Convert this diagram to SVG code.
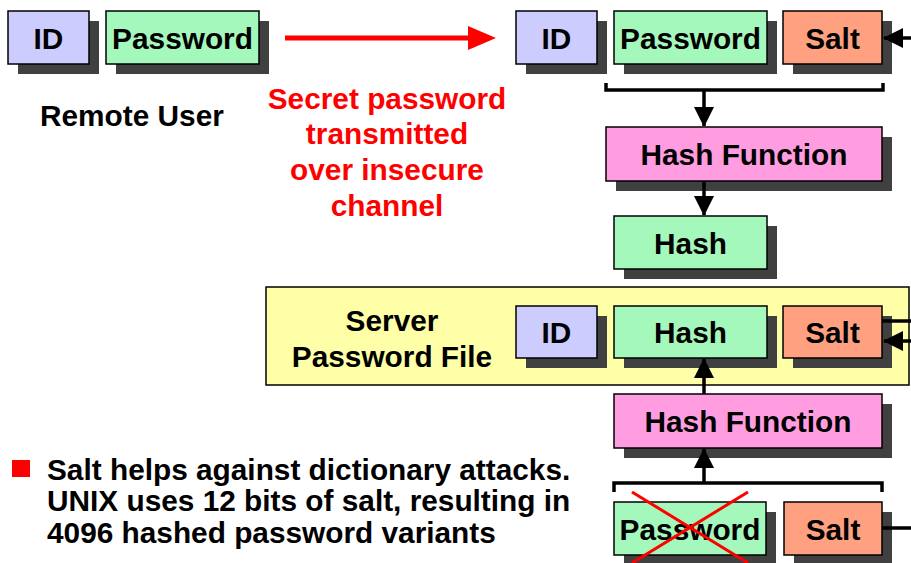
<svg xmlns="http://www.w3.org/2000/svg" width="911" height="563" viewBox="0 0 911 563">
<style>
text{font-family:"Liberation Sans",Arial,sans-serif;font-weight:bold;font-size:29.8px;fill:#000}
.c{text-anchor:middle}
.red{fill:#ff0000}
.sh{fill:#404040}
.b{stroke:#000;stroke-width:1.5}
.id{fill:#ccccff}
.pw{fill:#a5f8bb}
.salt{fill:#ffa080}
.hf{fill:#ff9de0}
.ln{stroke:#000;stroke-width:3.5;fill:none}
</style>
<defs>
<marker id="ah" viewBox="0 0 20 20" refX="19" refY="10" markerWidth="21" markerHeight="20" markerUnits="userSpaceOnUse" orient="auto">
<path d="M0,0L20,10L0,20z" fill="#000"/>
</marker>
</defs>
<rect width="911" height="563" fill="#fff"/>

<g id="server-file">
<rect x="266" y="287" width="643" height="98" fill="#ffffa8" stroke="#000" stroke-width="1.5"/>
<text class="c" x="392" y="331">Server</text>
<text class="c" x="392" y="367">Password File</text>
</g>

<g id="user-id"><rect class="sh" x="18" y="21" width="81" height="53"/><rect class="id b" x="8" y="11" width="81" height="53"/><text class="c" x="48.5" y="49">ID</text></g>
<g id="user-password"><rect class="sh" x="116" y="21" width="153" height="53"/><rect class="pw b" x="106" y="11" width="153" height="53"/><text class="c" x="182.5" y="49">Password</text></g>
<g id="remote-user"><text x="40" y="126">Remote User</text></g>
<g id="channel-label">
<text class="c red" x="387" y="109">Secret password</text>
<text class="c red" x="387" y="144">transmitted</text>
<text class="c red" x="387" y="180">over insecure</text>
<text class="c red" x="387" y="216">channel</text>
</g>

<g id="recv-id"><rect class="sh" x="526" y="21" width="81" height="53"/><rect class="id b" x="516" y="11" width="81" height="53"/><text class="c" x="556.5" y="49">ID</text></g>
<g id="recv-password"><rect class="sh" x="624" y="21" width="153" height="53"/><rect class="pw b" x="614" y="11" width="153" height="53"/><text class="c" x="690.5" y="49">Password</text></g>
<g id="recv-salt"><rect class="sh" x="793" y="21" width="99" height="53"/><rect class="salt b" x="783" y="11" width="99" height="53"/><text class="c" x="832.5" y="49">Salt</text></g>

<g id="hash-function-1"><rect class="sh" x="616" y="137" width="276" height="54"/><rect class="hf b" x="606" y="127" width="276" height="54"/><text class="c" x="744" y="165">Hash Function</text></g>
<g id="hash-1"><rect class="sh" x="624" y="226" width="153" height="53"/><rect class="pw b" x="614" y="216" width="153" height="53"/><text class="c" x="690.5" y="254">Hash</text></g>

<g id="file-id"><rect class="sh" x="526" y="316" width="81" height="52"/><rect class="id b" x="516" y="306" width="81" height="52"/><text class="c" x="556.5" y="343">ID</text></g>
<g id="file-hash"><rect class="sh" x="624" y="316" width="153" height="52"/><rect class="pw b" x="614" y="306" width="153" height="52"/><text class="c" x="690.5" y="343">Hash</text></g>
<g id="file-salt"><rect class="sh" x="793" y="316" width="99" height="52"/><rect class="salt b" x="783" y="306" width="99" height="52"/><text class="c" x="832.5" y="343">Salt</text></g>

<g id="hash-function-2"><rect class="sh" x="624" y="404" width="268" height="54"/><rect class="hf b" x="614" y="394" width="268" height="54"/><text class="c" x="748" y="432">Hash Function</text></g>

<g id="login-password"><rect class="sh" x="624" y="512" width="152" height="53"/><rect class="pw b" x="614" y="502" width="152" height="53"/><text class="c" x="690" y="540">Password</text></g>
<g id="login-salt"><rect class="sh" x="794" y="512" width="98" height="53"/><rect class="salt b" x="784" y="502" width="98" height="53"/><text class="c" x="833" y="540">Salt</text></g>

<g id="note">
<rect x="12" y="460" width="18" height="17" fill="#ff0000"/>
<text x="47" y="480">Salt helps against dictionary attacks.</text>
<text x="47" y="511">UNIX uses 12 bits of salt, resulting in</text>
<text x="47" y="543">4096 hashed password variants</text>
</g>

<g id="connectors">
<line x1="285" y1="38" x2="472" y2="38" stroke="#ff0000" stroke-width="5"/>
<path d="M468,26L496,38L468,50z" fill="#ff0000"/>
<line class="ln" x1="911" y1="38" x2="884" y2="38" marker-end="url(#ah)"/>
<path class="ln" d="M606,83V90H883V83"/>
<line class="ln" x1="704" y1="90" x2="704" y2="126" marker-end="url(#ah)"/>
<line class="ln" x1="704" y1="181" x2="704" y2="215" marker-end="url(#ah)"/>
<line class="ln" x1="882" y1="321" x2="911" y2="321"/>
<line class="ln" x1="911" y1="341" x2="884" y2="341" marker-end="url(#ah)"/>
<line class="ln" x1="704" y1="394" x2="704" y2="359" marker-end="url(#ah)"/>
<path class="ln" d="M614,492V483H882V492"/>
<line class="ln" x1="704" y1="483" x2="704" y2="449" marker-end="url(#ah)"/>
<line class="ln" x1="882" y1="528" x2="911" y2="528"/>
<line x1="632" y1="492" x2="748" y2="563" stroke="#ff0000" stroke-width="3"/>
<line x1="748" y1="492" x2="632" y2="563" stroke="#ff0000" stroke-width="3"/>
</g>
</svg>
